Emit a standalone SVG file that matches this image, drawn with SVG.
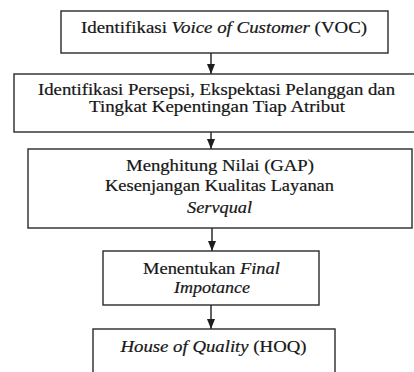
<svg xmlns="http://www.w3.org/2000/svg" width="414" height="372" viewBox="0 0 414 372">
<style>
.box{fill:#fff;stroke:#2a2a2a;stroke-width:1.4}
.t{font-family:'Liberation Serif','Times New Roman',serif;font-size:16px;fill:#161616;stroke:#161616;stroke-width:0.2}
.i{font-style:italic}
.c{stroke:#1e1e1e;stroke-width:1.4;fill:none}
</style>
<defs>
<marker id="ad" markerUnits="userSpaceOnUse" markerWidth="9" markerHeight="10" viewBox="0 0 9 10" refX="4.5" refY="10" orient="0">
<path d="M0.5,0 L8.5,0 L4.5,10 Z" fill="#1e1e1e"/>
</marker>
</defs>
<rect width="414" height="372" fill="#fff"/>
<g id="connectors">
<line class="c" x1="211" y1="53" x2="211" y2="74" marker-end="url(#ad)"/>
<line class="c" x1="211" y1="132" x2="211" y2="149" marker-end="url(#ad)"/>
<line class="c" x1="212" y1="228" x2="212" y2="251" marker-end="url(#ad)"/>
<line class="c" x1="211" y1="305" x2="211" y2="329" marker-end="url(#ad)"/>
</g>
<g id="node1">
<rect class="box" x="61" y="11" width="327" height="42"/>
<text class="t" x="81" y="33" textLength="286" lengthAdjust="spacingAndGlyphs">Identifikasi <tspan class="i">Voice of Customer</tspan> (VOC)</text>
</g>
<g id="node2">
<rect class="box" x="14" y="74" width="410" height="58"/>
<text class="t" x="38" y="95" textLength="357" lengthAdjust="spacingAndGlyphs">Identifikasi Persepsi, Ekspektasi Pelanggan dan</text>
<text class="t" x="89" y="112" textLength="256" lengthAdjust="spacingAndGlyphs">Tingkat Kepentingan Tiap Atribut</text>
</g>
<g id="node3">
<rect class="box" x="28" y="149" width="384" height="79"/>
<text class="t" x="126" y="171" textLength="188" lengthAdjust="spacingAndGlyphs">Menghitung Nilai (GAP)</text>
<text class="t" x="105" y="190.5" textLength="229" lengthAdjust="spacingAndGlyphs">Kesenjangan Kualitas Layanan</text>
<text class="t i" x="187" y="213" textLength="65" lengthAdjust="spacingAndGlyphs">Servqual</text>
</g>
<g id="node4">
<rect class="box" x="103" y="251" width="216" height="54"/>
<text class="t" x="143" y="273.5" textLength="137" lengthAdjust="spacingAndGlyphs">Menentukan <tspan class="i">Final</tspan></text>
<text class="t i" x="174" y="292.5" textLength="76" lengthAdjust="spacingAndGlyphs">Impotance</text>
</g>
<g id="node5">
<rect class="box" x="93" y="329" width="242" height="60"/>
<text class="t" x="120.5" y="352" textLength="186" lengthAdjust="spacingAndGlyphs"><tspan class="i">House of Quality</tspan> (HOQ)</text>
</g>
</svg>
